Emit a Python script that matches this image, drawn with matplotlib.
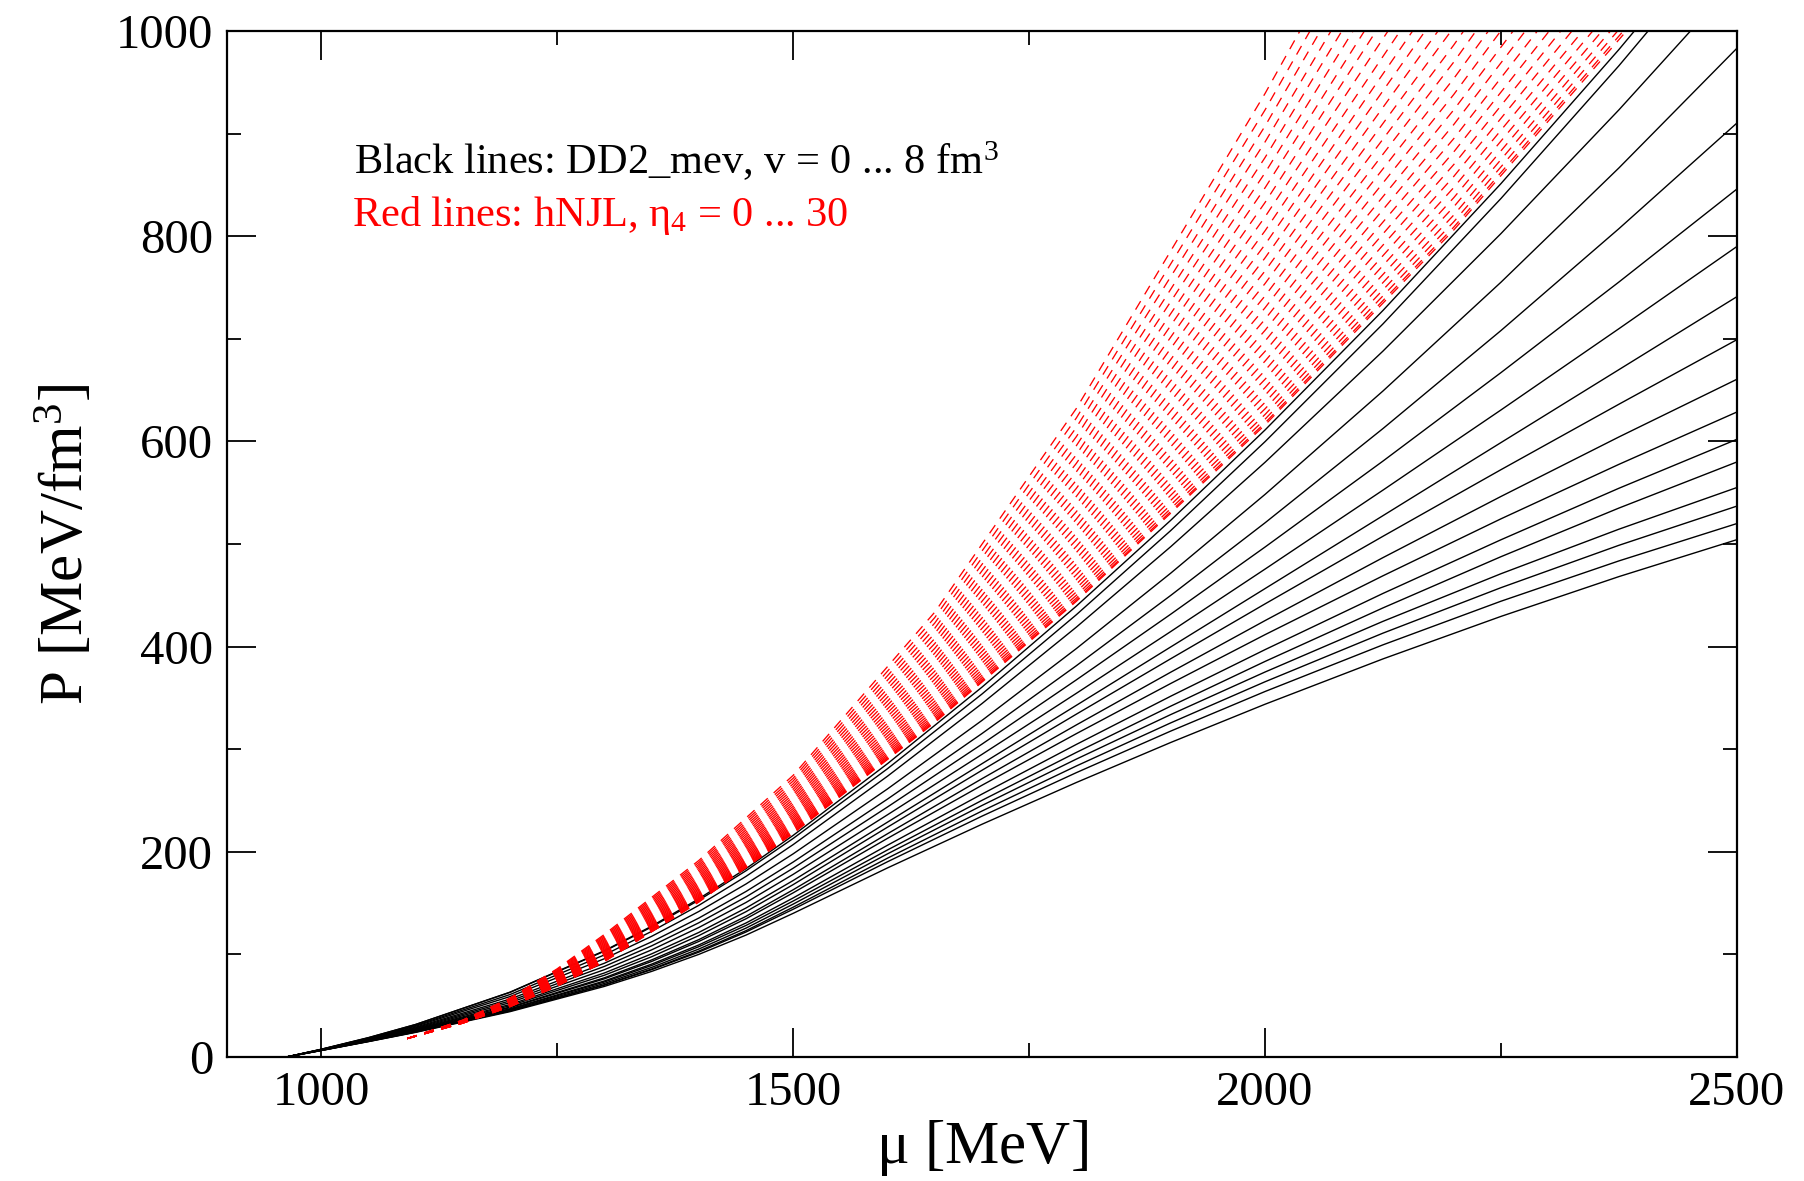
import numpy as np
import matplotlib
matplotlib.use("Agg")
import matplotlib.pyplot as plt

plt.rcParams['font.family'] = ['Liberation Serif', 'DejaVu Serif']
plt.rcParams['mathtext.fontset'] = 'custom'
plt.rcParams['mathtext.rm'] = 'Liberation Serif'
plt.rcParams['mathtext.it'] = 'Liberation Serif'
plt.rcParams['mathtext.bf'] = 'Liberation Serif:bold'

# black lines: DD2_mev, v = 0 ... 8 fm^3 (17 curves); one row per mu value
mu_black = [963, 1000, 1050, 1100, 1200, 1300, 1350, 1400, 1450, 1500, 1600, 1700,
            1800, 1900, 2000, 2125, 2250, 2375, 2500]
P_black_cols = [
    [0] * 17,
    [7.6, 7.5, 7.4, 7.3, 7.2, 7.1, 7.0, 7.0, 6.9, 6.8, 6.7, 6.6, 6.6, 6.5, 6.4, 6.4, 6.3],
    [18.9, 18.8, 18.4, 18.0, 17.6, 17.3, 17.0, 16.7, 16.4, 16.2, 16.0, 15.8, 15.6, 15.5, 15.3, 15.1, 15.0],
    [31.7, 31.7, 30.7, 30.0, 29.1, 28.4, 27.7, 27.1, 26.6, 26.1, 25.8, 25.4, 25.1, 24.8, 24.5, 24.3, 24.0],
    [63.2, 63.0, 60.9, 58.9, 56.5, 54.7, 53.0, 51.2, 50.0, 48.7, 48.1, 47.0, 46.5, 45.8, 45.0, 44.8, 44.2],
    [103.6, 103.1, 99.5, 95.8, 91.4, 88.3, 85.1, 81.9, 79.7, 77.2, 76.2, 74.1, 73.1, 71.7, 70.4, 70.0, 68.8],
    [127.5, 126.7, 122.4, 117.6, 112.2, 108.3, 104.4, 100.5, 97.7, 94.6, 93.1, 90.5, 89.2, 87.3, 85.7, 85.1, 83.4],
    [154.2, 152.8, 147.8, 141.8, 135.4, 130.8, 126.2, 121.4, 118.3, 114.4, 112.6, 109.2, 107.5, 105.2, 103.2, 102.2, 100.0],
    [183.6, 181.5, 176.0, 168.6, 161.3, 156.0, 150.6, 145.2, 141.6, 137.1, 134.7, 130.6, 128.2, 125.6, 123.1, 121.8, 118.8],
    [216, 213, 207, 198, 190, 184, 178, 172, 168, 163, 160, 155, 152, 149, 146, 144, 140],
    [285.9, 281.0, 273.7, 261.3, 251.4, 243.7, 236.1, 228.9, 224.0, 217.6, 213.1, 206.4, 201.8, 198.0, 193.8, 190.3, 184.3],
    [360.4, 353.7, 344.4, 328.0, 315.2, 304.9, 294.9, 285.8, 279.4, 271.2, 264.8, 256.2, 250.1, 245.1, 239.7, 234.7, 226.8],
    [439.4, 431.0, 418.9, 398.0, 381.3, 367.5, 354.4, 342.7, 334.1, 323.6, 315.1, 304.6, 296.8, 290.3, 283.6, 277.1, 267.5],
    [523.0, 513.0, 497.3, 471.5, 449.8, 431.5, 414.6, 399.6, 388.1, 375.0, 364.0, 351.6, 341.9, 333.7, 325.6, 317.6, 306.5],
    [611.1, 599.7, 579.6, 548.3, 520.6, 497.0, 475.5, 456.5, 441.6, 425.3, 411.6, 397.0, 385.5, 375.2, 365.7, 356.2, 343.8],
    [727.6, 714.5, 688.0, 649.1, 612.5, 580.8, 552.5, 527.6, 507.5, 486.7, 469.0, 451.8, 437.7, 424.6, 413.1, 401.7, 388.0],
    [851.2, 836.7, 802.5, 755.1, 708.0, 667.0, 630.6, 598.8, 572.4, 546.3, 524.5, 504.1, 487.6, 471.0, 457.4, 444.2, 429.4],
    [981.9, 966.1, 923.1, 866.5, 807.3, 755.3, 709.8, 669.9, 636.2, 604.3, 577.6, 554.3, 535.0, 514.4, 498.7, 483.5, 468.2],
    [1119.6, 1102.8, 1049.8, 983.1, 910.2, 845.9, 789.9, 741.0, 699.1, 660.5, 628.6, 602.0, 579.9, 555.0, 536.9, 519.9, 504.2],
]

# red lines: hNJL, eta_4 = 0 ... 30 (31 curves); one row per mu value
mu_red = [1091, 1150, 1200, 1250, 1300, 1400, 1500, 1650, 1800, 2000, 2200, 2400]
P_red_cols = [
    [18] * 31,
    [33.0, 33.0, 33.1, 33.1, 33.1, 33.2, 33.3, 33.3, 33.4, 33.5, 33.6, 33.7, 33.8, 33.9, 34.0, 34.1,
     34.2, 34.3, 34.4, 34.5, 34.6, 34.8, 34.9, 35.0, 35.1, 35.3, 35.4, 35.6, 35.7, 35.9, 36.0],
    [49.0, 49.1, 49.2, 49.3, 49.4, 49.6, 49.8, 50.0, 50.2, 50.4, 50.6, 50.9, 51.2, 51.4, 51.7, 52.0,
     52.3, 52.6, 53.0, 53.3, 53.6, 54.0, 54.3, 54.7, 55.1, 55.5, 55.9, 56.3, 56.7, 57.1, 57.5],
    [69.0, 69.1, 69.3, 69.5, 69.8, 70.2, 70.5, 70.9, 71.3, 71.8, 72.3, 72.8, 73.3, 73.9, 74.4, 75.0,
     75.6, 76.3, 76.9, 77.6, 78.3, 79.0, 79.7, 80.4, 81.2, 81.9, 82.7, 83.5, 84.3, 85.2, 86.0],
    [93.0, 93.2, 93.5, 93.8, 94.3, 94.8, 95.4, 96.0, 96.7, 97.4, 98.1, 98.9, 99.7, 100.6, 101.5, 102.4,
     103.3, 104.3, 105.3, 106.4, 107.4, 108.5, 109.6, 110.8, 112.0, 113.2, 114.4, 115.6, 116.9, 118.2, 119.5],
    [151.0, 151.2, 151.7, 152.3, 153.0, 153.8, 154.6, 155.6, 156.6, 157.7, 158.8, 160.0, 161.2, 162.6,
     163.9, 165.3, 166.8, 168.3, 169.8, 171.4, 173.0, 174.7, 176.4, 178.2, 180.0, 181.8, 183.7, 185.6,
     187.5, 189.5, 191.5],
    [218.0, 218.3, 219.0, 219.8, 220.8, 221.8, 223.1, 224.4, 225.8, 227.3, 228.9, 230.5, 232.3, 234.1,
     236.0, 238.0, 240.0, 242.1, 244.3, 246.5, 248.8, 251.1, 253.5, 255.9, 258.4, 261.0, 263.6, 266.2,
     269.0, 271.7, 274.5],
    [326.0, 326.7, 327.9, 329.4, 331.2, 333.3, 335.6, 338.1, 340.8, 343.7, 346.7, 349.9, 353.2, 356.7,
     360.3, 364.0, 367.9, 371.9, 376.0, 380.2, 384.5, 389.0, 393.5, 398.2, 402.9, 407.8, 412.7, 417.8,
     422.9, 428.2, 433.5],
    [444.0, 445.2, 447.2, 449.9, 453.2, 456.8, 460.8, 465.2, 469.9, 474.9, 480.2, 485.7, 491.6, 497.6,
     503.9, 510.5, 517.2, 524.2, 531.4, 538.8, 546.3, 554.1, 562.1, 570.2, 578.5, 587.0, 595.7, 604.5,
     613.5, 622.7, 632.0],
    [616.0, 618.0, 621.6, 626.2, 631.7, 638.0, 644.9, 652.4, 660.5, 669.1, 678.2, 687.7, 697.7, 708.2,
     719.0, 730.2, 741.8, 753.8, 766.1, 778.8, 791.8, 805.2, 818.8, 832.8, 847.1, 861.7, 876.6, 891.8,
     907.3, 923.0, 939.0],
    [806.0, 808.8, 814.0, 820.6, 828.6, 837.5, 847.4, 858.2, 869.8, 882.1, 895.1, 908.8, 923.1, 938.1,
     953.6, 969.7, 986.3, 1003.5, 1021.2, 1039.4, 1058.0, 1077.2, 1096.8, 1116.8, 1137.3, 1158.2,
     1179.6, 1201.3, 1223.5, 1246.0, 1269.0],
    [1018.0, 1021.6, 1028.2, 1036.7, 1046.8, 1058.2, 1070.8, 1084.6, 1099.4, 1115.1, 1131.8, 1149.2,
     1167.5, 1186.6, 1206.4, 1227.0, 1248.2, 1270.1, 1292.7, 1315.9, 1339.7, 1364.2, 1389.2, 1414.7,
     1440.9, 1467.6, 1494.8, 1522.6, 1550.9, 1579.7, 1609.0],
]

P_black = np.array(P_black_cols).T
P_red = np.array(P_red_cols).T

fig = plt.figure(figsize=(18.04, 11.81), dpi=100)
ax = fig.add_axes([0.1258, 0.105, 0.837, 0.8688])

for row in P_black:
    ax.plot(mu_black, row, color='black', lw=1.0)

for row in P_red:
    ax.plot(mu_red, row, color='red', lw=0.95, dashes=(7.5, 6))

ax.set_xlim(900, 2500)
ax.set_ylim(0, 1000)
ax.set_xticks([1000, 1500, 2000, 2500])
ax.set_xticks([1250, 1750, 2250], minor=True)
ax.set_yticks(range(0, 1001, 200))
ax.set_yticks(range(100, 1000, 200), minor=True)
ax.tick_params(which='both', direction='in', top=True, right=True, labelsize=35, width=1.3)
ax.tick_params(which='major', length=21, pad=10)
ax.tick_params(which='minor', length=10)
for s in ax.spines.values():
    s.set_linewidth(1.6)

ax.set_xlabel(r'$\mu$ [MeV]', fontsize=44, labelpad=2)
ax.set_ylabel(r'P [MeV/fm$^3$]', fontsize=44, labelpad=14)

ax.text(1035, 860, r'Black lines: DD2_mev, v = 0 ... 8 fm$^3$', fontsize=30.5, color='black')
ax.text(1033, 810, r'Red lines: hNJL, $\eta_4$ = 0 ... 30', fontsize=30.5, color='red')

fig.savefig('out.png', dpi=100)
